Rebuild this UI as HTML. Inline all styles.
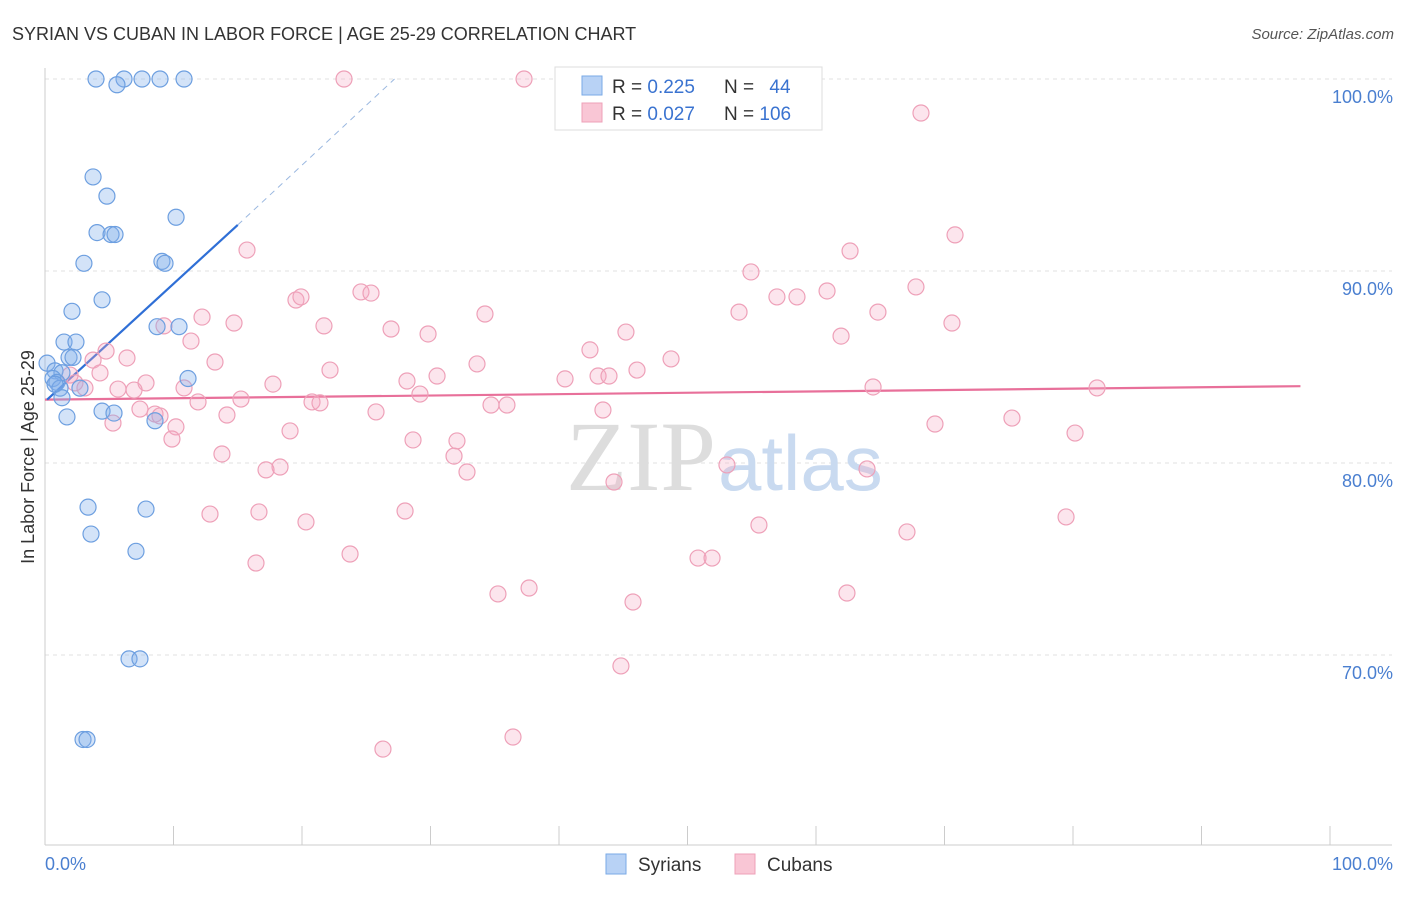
<!DOCTYPE html>
<html><head><meta charset="utf-8">
<style>
body{margin:0;background:#fff;font-family:"Liberation Sans",sans-serif;}
svg text{font-family:"Liberation Sans",sans-serif;}
</style></head>
<body>
<svg id="chart" width="1406" height="892" xmlns="http://www.w3.org/2000/svg">
<text x="12" y="40" font-size="18" fill="#333">SYRIAN VS CUBAN IN LABOR FORCE | AGE 25-29 CORRELATION CHART</text>
<text x="1394" y="39" font-size="15" fill="#555" text-anchor="end" font-style="italic">Source: ZipAtlas.com</text>
<g id="grid"></g>
<text x="716" y="490" font-size="100" fill="#ddd" text-anchor="end" style="font-family:'Liberation Serif',serif">ZIP</text>
<text x="718" y="490" font-size="78" fill="#c9daf0">atlas</text>
<g id="axes"></g>
<g id="trend"></g>
<g id="points"></g>
<text transform="translate(34,457) rotate(-90)" font-size="18" fill="#333" text-anchor="middle">In Labor Force | Age 25-29</text>
<text x="45" y="870" font-size="18" fill="#4a7fd0">0.0%</text>
<text x="1393" y="870" font-size="18" fill="#4a7fd0" text-anchor="end">100.0%</text>
<g>
<rect x="555" y="67" width="267" height="63" fill="#fff" stroke="#ddd"/>
<rect x="582" y="76" width="20" height="19" fill="#b8d2f5" stroke="#7aaae6"/>
<rect x="582" y="103" width="20" height="19" fill="#f9c6d5" stroke="#eea0b8"/>
<text x="612" y="93" font-size="19" fill="#333">R = <tspan fill="#3a73d0">0.225</tspan></text>
<text x="724" y="93" font-size="19" fill="#333">N = <tspan fill="#3a73d0" dx="10">44</tspan></text>
<text x="612" y="120" font-size="19" fill="#333">R = <tspan fill="#3a73d0">0.027</tspan></text>
<text x="724" y="120" font-size="19" fill="#333">N = <tspan fill="#3a73d0">106</tspan></text>
</g>
<g>
<rect x="606" y="854" width="20" height="20" fill="#b8d2f5" stroke="#7aaae6"/>
<text x="638" y="871" font-size="19" fill="#333">Syrians</text></g>
<g>
<rect x="735" y="854" width="20" height="20" fill="#f9c6d5" stroke="#eea0b8"/>
<text x="767" y="871" font-size="19" fill="#333">Cubans</text></g>
</svg>
<script>
const yTicks=[70,80,90,100];
const yTickLabels=["70.0%","80.0%","90.0%","100.0%"];
const xTicks=[0,10,20,30,40,50,60,70,80,90,100];
const syrX=[3.97,6.15,7.55,8.95,10.82,5.6,3.74,4.82,10.2,4.05,5.14,5.45,9.1,9.34,3.03,4.44,2.1,1.48,2.41,8.72,10.43,1.87,2.18,0.16,0.78,1.32,0.62,0.93,1.17,2.72,11.13,0.78,1.32,1.71,4.44,5.37,8.56,3.35,7.86,3.58,7.08,6.54,7.39,2.96,3.27];
const syrY=[100,100,100,100,100,99.7,94.9,93.9,92.8,92.0,91.9,91.9,90.5,90.4,90.4,88.5,87.9,86.3,86.3,87.1,87.1,85.5,85.5,85.2,84.8,84.7,84.4,84.2,83.9,83.9,84.4,84.1,83.4,82.4,82.7,82.6,82.2,77.7,77.6,76.3,75.4,69.8,69.8,65.6,65.6];
const cubX=[23.27,37.28,49.57,68.17,15.72,70.82,62.65,54.94,67.78,60.86,56.96,58.52,24.59,25.37,19.53,19.92,54.01,64.82,70.58,12.22,14.71,21.71,26.93,29.81,34.24,45.21,61.95,11.36,9.26,42.41,4.75,6.38,3.74,13.23,33.62,48.72,4.28,22.18,30.51,40.47,43.04,43.89,46.07,28.17,17.74,7.86,5.68,6.93,10.82,2.33,3.11,1.95,29.18,64.44,81.87,15.25,11.91,20.78,21.4,34.71,35.95,25.76,43.42,14.16,8.56,7.39,8.95,5.29,75.25,69.26,19.07,10.19,9.88,28.64,32.06,80.16,31.83,13.77,32.84,18.29,17.2,53.07,63.97,44.28,12.84,16.65,20.31,28.02,55.56,67.08,79.46,23.74,16.42,50.82,51.91,37.67,35.25,45.76,62.41,44.82,36.42,26.3];
const cubY=[100,100,99.84,98.23,91.09,91.88,91.04,89.95,89.17,88.96,88.65,88.65,88.91,88.85,88.49,88.65,87.86,87.86,87.29,87.6,87.29,87.14,86.98,86.72,87.76,86.82,86.61,86.35,87.14,85.89,85.83,85.47,85.36,85.26,85.16,85.42,84.69,84.84,84.53,84.38,84.53,84.53,84.84,84.27,84.11,84.17,83.85,83.8,83.91,84.17,83.91,84.58,83.59,83.96,83.91,83.33,83.18,83.18,83.13,83.02,83.02,82.66,82.76,82.5,82.55,82.81,82.45,82.08,82.34,82.03,81.67,81.88,81.25,81.2,81.15,81.56,80.36,80.47,79.53,79.79,79.64,79.9,79.69,79.01,77.34,77.45,76.93,77.5,76.77,76.41,77.19,75.26,74.79,75.05,75.05,73.49,73.18,72.76,73.23,69.43,65.73,65.1];
const syrTrend=[[0.16,83.3],[15.0,92.4]];
const syrTrendExt=[[15.0,92.4],[27.2,100]];
const cubTrend=[[0,83.3],[97.7,84.0]];
const xs=v=>45+v*12.85, ys=v=>79+(100-v)*19.2;
const NS="http://www.w3.org/2000/svg";
function mk(tag,attrs,parent){const e=document.createElementNS(NS,tag);for(const k in attrs)e.setAttribute(k,attrs[k]);document.getElementById(parent).appendChild(e);return e;}
yTicks.forEach((t,i)=>{
 const l=mk('line',{x1:45,x2:1392,y1:ys(t),y2:ys(t),stroke:'#e2e2e2','stroke-dasharray':'4,4'},'grid');
 
 
 const tx=mk('text',{x:1393,y:ys(t)+24,'font-size':18,fill:'#4a7fd0','text-anchor':'end'},'grid');
 tx.textContent=yTickLabels[i];
 
 
});
const topLine=mk('line',{x1:45,x2:1392,y1:79,y2:79,stroke:'#e2e2e2','stroke-dasharray':'4,4'},'grid');


const axX=mk('line',{x1:45,x2:1392,y1:845,y2:845,stroke:'#ccc'},'axes');


const axY=mk('line',{x1:45,x2:45,y1:68,y2:845,stroke:'#ccc'},'axes');


xTicks.forEach(t=>{
 const l=mk('line',{x1:xs(t),x2:xs(t),y1:826,y2:845,stroke:'#ccc'},'axes');
 
 
});
function pts(X,Y,fill,stroke,name){
 X.forEach((x,i)=>{
  const c=mk('circle',{cx:xs(x),cy:ys(Y[i]),r:8,fill:fill,stroke:stroke,'stroke-width':1.2},'points');
  
  
 });
}
pts(cubX,cubY,'rgba(244,170,195,0.3)','#eea0b8','cuban-point');
pts(syrX,syrY,'rgba(130,175,235,0.35)','#6d9fe0','syrian-point');
function line(p,stroke,w,dash,name){
 const l=mk('line',{x1:xs(p[0][0]),y1:ys(p[0][1]),x2:xs(p[1][0]),y2:ys(p[1][1]),stroke:stroke,'stroke-width':w},'trend');
 if(dash)l.setAttribute('stroke-dasharray',dash);
 
 
}
line(cubTrend,'#e8709a',2.2,null,'cuban-trend-line');
line(syrTrend,'#2f6fd6',2.2,null,'syrian-trend-line');
line(syrTrendExt,'#9bb8e0',1,'6,5','syrian-trend-extension');
</script>
</body></html>
